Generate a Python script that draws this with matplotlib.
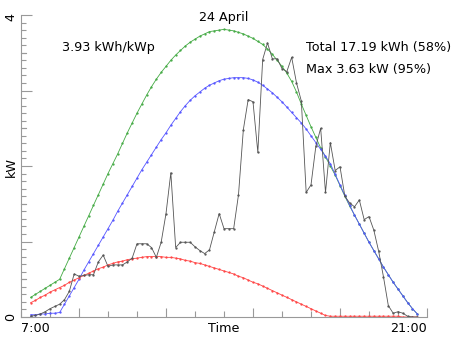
import numpy as np
import matplotlib
matplotlib.use("Agg")
import matplotlib.pyplot as plt
from matplotlib.ticker import MultipleLocator

# 10-minute samples from 7:20 to 20:40 (kW)
actual = [0.01, 0.02, 0.04, 0.07, 0.11, 0.14, 0.17, 0.23, 0.34, 0.57,
          0.54, 0.55, 0.56, 0.56, 0.73, 0.82, 0.67, 0.69, 0.69, 0.69,
          0.73, 0.78, 0.97, 0.97, 0.97, 0.92, 0.79, 0.99, 1.37, 1.91,
          0.92, 0.99, 0.99, 0.99, 0.93, 0.88, 0.84, 0.89, 1.13, 1.37,
          1.17, 1.17, 1.17, 1.62, 2.48, 2.88, 2.85, 2.18, 3.41, 3.63,
          3.42, 3.42, 3.29, 3.25, 3.44, 3.10, 2.86, 1.65, 1.75, 2.26,
          2.50, 1.65, 2.31, 1.94, 1.99, 1.60, 1.51, 1.46, 1.55, 1.29,
          1.33, 1.15, 0.87, 0.53, 0.15, 0.05, 0.07, 0.05, 0.01, 0.00,
          0.00]

clear_sky = [0.26, 0.30, 0.34, 0.38, 0.42, 0.46, 0.50, 0.64, 0.78, 0.92,
             1.06, 1.20, 1.34, 1.48, 1.62, 1.76, 1.90, 2.03, 2.16, 2.30,
             2.44, 2.57, 2.70, 2.82, 2.94, 3.05, 3.15, 3.24, 3.32, 3.40,
             3.47, 3.53, 3.59, 3.64, 3.68, 3.72, 3.75, 3.78, 3.79, 3.80,
             3.81, 3.80, 3.79, 3.77, 3.75, 3.72, 3.69, 3.65, 3.61, 3.55,
             3.48, 3.40, 3.32, 3.23, 3.12, 2.98, 2.82, 2.67, 2.52, 2.38,
             2.24, 2.12, 2.00, 1.88, 1.74, 1.60, 1.47, 1.35, 1.23, 1.11,
             0.99, 0.88, 0.77, 0.66, 0.56, 0.46, 0.37, 0.28, 0.19, 0.11,
             0.04]

expected = [0.03, 0.03, 0.04, 0.04, 0.05, 0.05, 0.06, 0.17, 0.28, 0.39,
            0.50, 0.62, 0.73, 0.84, 0.95, 1.06, 1.17, 1.28, 1.40, 1.51,
            1.62, 1.73, 1.84, 1.95, 2.05, 2.15, 2.25, 2.35, 2.44, 2.54,
            2.63, 2.72, 2.80, 2.87, 2.93, 2.98, 3.03, 3.07, 3.10, 3.13,
            3.15, 3.16, 3.17, 3.17, 3.17, 3.16, 3.14, 3.11, 3.07, 3.02,
            2.97, 2.91, 2.85, 2.78, 2.71, 2.64, 2.57, 2.49, 2.40, 2.31,
            2.22, 2.13, 2.03, 1.89, 1.75, 1.61, 1.48, 1.35, 1.23, 1.11,
            0.99, 0.88, 0.77, 0.66, 0.56, 0.46, 0.37, 0.28, 0.19, 0.11,
            0.04]

diffuse = [0.19, 0.22, 0.26, 0.29, 0.33, 0.36, 0.39, 0.42, 0.46, 0.49,
           0.52, 0.55, 0.58, 0.61, 0.64, 0.66, 0.69, 0.71, 0.73, 0.74,
           0.76, 0.77, 0.78, 0.79, 0.80, 0.80, 0.80, 0.80, 0.79, 0.79,
           0.78, 0.77, 0.75, 0.74, 0.72, 0.71, 0.69, 0.67, 0.65, 0.63,
           0.61, 0.59, 0.57, 0.54, 0.52, 0.49, 0.46, 0.44, 0.41, 0.38,
           0.35, 0.32, 0.29, 0.26, 0.23, 0.20, 0.17, 0.14, 0.11, 0.08,
           0.05, 0.02, 0.01, 0.01, 0.01, 0.01, 0.01, 0.01, 0.01, 0.01,
           0.01, 0.01, 0.01, 0.01, 0.01, 0.01, 0.01, 0.00, 0.00, 0.00,
           0.00]

title = "24 April"
yield_text = "3.93 kWh/kWp"
total_text = "Total 17.19 kWh (58%)"
max_text = "Max 3.63 kW (95%)"

start_hour = 7 + 20 / 60
step = 10 / 60
hours = start_hour + step * np.arange(len(actual))

W, H = 452, 339
fig = plt.figure(figsize=(W / 100, H / 100), dpi=100)
ax = fig.add_axes([21 / W, 1 - 317 / H, 406 / W, 302 / H])

def px(x, y):
    return x / W, 1 - y / H

style = dict(linewidth=0.6, marker='.', markersize=1.3)
ax.plot(hours, clear_sky, color='#44aa44', **style)
ax.plot(hours, expected, color='#5555ff', **style)
ax.plot(hours, diffuse, color='#ff4444', **style)
ax.plot(hours, actual, color='#555555', **style)

ax.set_xlim(7, 21)
ax.set_ylim(0, 4)

for side in ['top', 'right']:
    ax.spines[side].set_visible(False)
for side in ['left', 'bottom']:
    ax.spines[side].set_color('#999999')
    ax.spines[side].set_linewidth(0.8)

ax.yaxis.set_major_locator(MultipleLocator(1))
ax.yaxis.set_minor_locator(MultipleLocator(0.1))
ax.xaxis.set_major_locator(MultipleLocator(3))
ax.xaxis.set_minor_locator(MultipleLocator(1))
ax.tick_params(which='both', direction='in', color='#999999', width=0.8,
               labelleft=False, labelbottom=False)
ax.tick_params(axis='y', which='major', length=8)
ax.tick_params(axis='y', which='minor', length=3.3)
ax.tick_params(axis='x', which='major', length=6.5)
ax.tick_params(axis='x', which='minor', length=4.5)
# half-kW ticks are a bit longer
for v in np.arange(0.5, 4, 1.0):
    ax.plot([7, 7 + 4.7 / 29], [v, v], color='#999999', lw=0.8, clip_on=False)

fs = 9.2
fig.text(*px(11, 17), "4", rotation=90, ha='center', va='center', fontsize=fs)
fig.text(*px(11, 317), "0", rotation=90, ha='center', va='center', fontsize=fs)
fig.text(*px(11, 167), "kW", rotation=90, ha='center', va='center', fontsize=fs)
fig.text(*px(21, 328), "7:00", ha='left', va='center', fontsize=fs)
fig.text(*px(224, 328), "Time", ha='center', va='center', fontsize=fs)
fig.text(*px(427, 328), "21:00", ha='right', va='center', fontsize=fs)
fig.text(*px(224, 17), title, ha='center', va='center', fontsize=fs)
fig.text(*px(62, 47), yield_text, ha='left', va='center', fontsize=fs)
fig.text(*px(306, 47), total_text, ha='left', va='center', fontsize=fs)
fig.text(*px(306, 70), max_text, ha='left', va='center', fontsize=fs)

fig.savefig("out.png", dpi=100)
